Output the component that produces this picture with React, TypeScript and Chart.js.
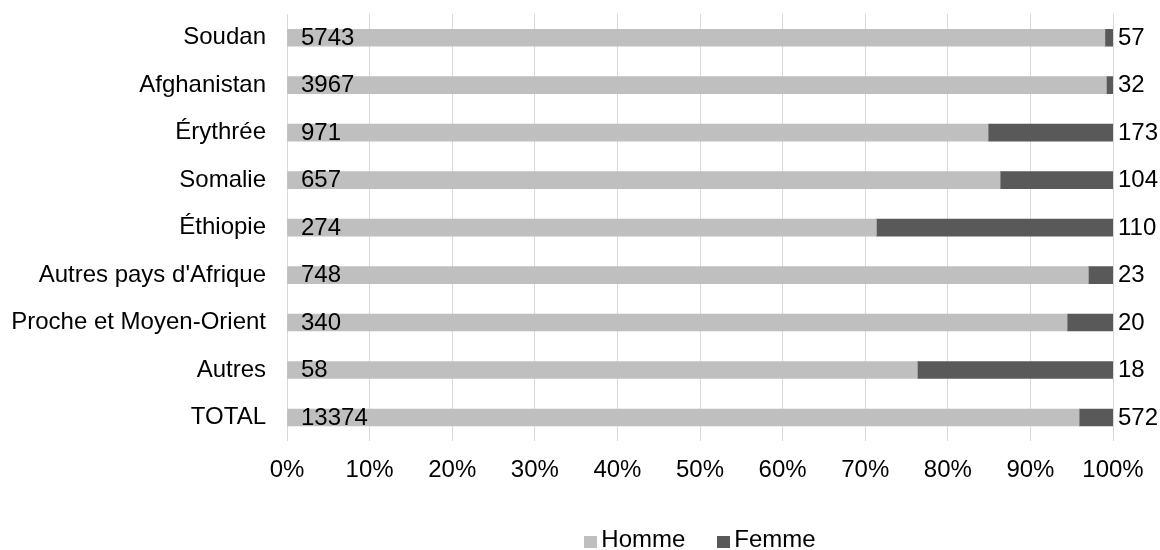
import { useEffect, useRef } from "react";
import { Chart, registerables } from "chart.js";

Chart.register(...registerables);

const categories = [
  "Soudan",
  "Afghanistan",
  "Érythrée",
  "Somalie",
  "Éthiopie",
  "Autres pays d'Afrique",
  "Proche et Moyen-Orient",
  "Autres",
  "TOTAL",
];
const hommeCounts = [5743, 3967, 971, 657, 274, 748, 340, 58, 13374];
const femmeCounts = [57, 32, 173, 104, 110, 23, 20, 18, 572];
const seriesNames = ["Homme", "Femme"];
const seriesColors = ["#bfbfbf", "#595959"];

const FONT = '"Liberation Sans", Arial, Helvetica, sans-serif';
const TEXT = "#000000";

// share of each group within its row, in percent
const share = (a: number[], b: number[]) => a.map((v, i) => (v / (v + b[i])) * 100);

const countLabels = {
  id: "countLabels",
  afterDatasetsDraw(chart: any) {
    const { ctx } = chart;
    const xs = chart.scales.x;
    const meta = chart.getDatasetMeta(0);
    ctx.save();
    ctx.font = `24px ${FONT}`;
    ctx.fillStyle = TEXT;
    ctx.textBaseline = "middle";
    ctx.textAlign = "left";
    meta.data.forEach((bar: any, i: number) => {
      ctx.fillText(String(hommeCounts[i]), xs.getPixelForValue(0) + 14, bar.y + 0.5);
      ctx.fillText(String(femmeCounts[i]), xs.getPixelForValue(100) + 5, bar.y + 0.5);
    });
    ctx.restore();
  },
};

const bottomLegend = {
  id: "bottomLegend",
  afterDraw(chart: any) {
    const { ctx, chartArea } = chart;
    const box = 13;
    const gap = 4;
    const spacing = 32;
    ctx.save();
    ctx.font = `24px ${FONT}`;
    const items = chart.data.datasets.map((d: any) => ({
      label: d.label,
      color: d.backgroundColor,
      w: ctx.measureText(d.label).width,
    }));
    const total =
      items.reduce((s: number, it: any) => s + box + gap + it.w, 0) + spacing * (items.length - 1);
    let x = (chartArea.left + chartArea.right) / 2 - total / 2;
    const y = chart.height - 10;
    ctx.textBaseline = "middle";
    ctx.textAlign = "left";
    items.forEach((it: any) => {
      ctx.fillStyle = it.color;
      ctx.fillRect(Math.round(x), Math.round(y - 4), box, box - 1);
      ctx.fillStyle = TEXT;
      ctx.fillText(it.label, x + box + gap, y);
      x += box + gap + it.w + spacing;
    });
    ctx.restore();
  },
};

export default function App() {
  const canvasRef = useRef<HTMLCanvasElement | null>(null);

  useEffect(() => {
    if (!canvasRef.current) return;
    const chart = new Chart(canvasRef.current, {
      type: "bar",
      data: {
        labels: categories,
        datasets: [
          {
            label: seriesNames[0],
            data: share(hommeCounts, femmeCounts),
            backgroundColor: seriesColors[0],
            barThickness: 17,
          },
          {
            label: seriesNames[1],
            data: share(femmeCounts, hommeCounts),
            backgroundColor: seriesColors[1],
            barThickness: 17,
          },
        ],
      },
      options: {
        indexAxis: "y",
        animation: false,
        responsive: true,
        maintainAspectRatio: false,
        layout: { padding: { top: 14, right: 47, bottom: 50, left: 0 } },
        plugins: {
          legend: { display: false },
          tooltip: { enabled: false },
        },
        scales: {
          x: {
            stacked: true,
            min: 0,
            max: 100,
            ticks: {
              stepSize: 10,
              callback: (v: any) => `${v}%`,
              font: { family: FONT, size: 24 },
              color: TEXT,
              padding: 15,
              maxRotation: 0,
            },
            grid: { color: "#d9d9d9", lineWidth: 1, drawTicks: false },
            border: { display: false },
            afterFit: (scale: any) => {
              scale.paddingLeft = 0;
              scale.paddingRight = 0;
            },
          },
          y: {
            stacked: true,
            ticks: {
              font: { family: FONT, size: 24 },
              color: TEXT,
              padding: 21,
              autoSkip: false,
            },
            grid: { display: false, drawTicks: false },
            border: { display: false },
            afterFit: (scale: any) => {
              scale.width = 287;
              scale.paddingTop = 0;
              scale.paddingBottom = 0;
            },
          },
        },
      },
      plugins: [countLabels, bottomLegend],
    });
    return () => chart.destroy();
  }, []);

  return (
    <div style={{ position: "absolute", left: 0, top: 0, width: 1160, height: 550, background: "#fff" }}>
      <canvas ref={canvasRef} />
    </div>
  );
}
